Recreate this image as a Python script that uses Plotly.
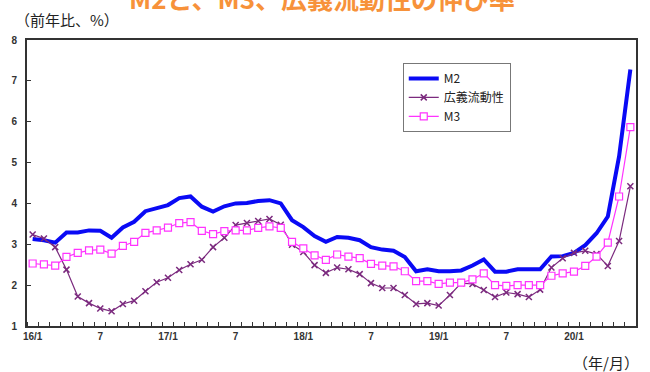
import plotly.graph_objects as go

months = ["16/1","16/2","16/3","16/4","16/5","16/6","16/7","16/8","16/9","16/10","16/11","16/12",
          "17/1","17/2","17/3","17/4","17/5","17/6","17/7","17/8","17/9","17/10","17/11","17/12",
          "18/1","18/2","18/3","18/4","18/5","18/6","18/7","18/8","18/9","18/10","18/11","18/12",
          "19/1","19/2","19/3","19/4","19/5","19/6","19/7","19/8","19/9","19/10","19/11","19/12",
          "20/1","20/2","20/3","20/4","20/5","20/6"]

m2 = [3.13,3.10,3.04,3.29,3.29,3.34,3.33,3.16,3.41,3.55,3.81,3.88,
      3.96,4.13,4.17,3.92,3.80,3.93,4.00,4.01,4.06,4.08,4.00,3.59,
      3.42,3.20,3.06,3.18,3.16,3.10,2.93,2.87,2.84,2.69,2.34,2.39,
      2.34,2.34,2.36,2.48,2.63,2.33,2.33,2.39,2.40,2.39,2.70,2.71,
      2.79,2.98,3.27,3.68,5.15,7.28]

liquidity = [3.24,3.14,2.93,2.38,1.72,1.56,1.43,1.36,1.54,1.62,1.85,2.07,
             2.18,2.37,2.51,2.62,2.93,3.16,3.47,3.52,3.57,3.62,3.48,2.99,
             2.81,2.49,2.30,2.43,2.39,2.27,2.05,1.93,1.93,1.76,1.54,1.56,
             1.50,1.76,2.05,2.03,1.88,1.71,1.82,1.78,1.71,1.89,2.43,2.66,
             2.79,2.84,2.76,2.47,3.08,4.42]

m3 = [2.53,2.51,2.48,2.69,2.79,2.85,2.87,2.77,2.96,3.06,3.28,3.34,
      3.41,3.52,3.54,3.33,3.25,3.32,3.34,3.34,3.40,3.44,3.40,3.06,
      2.90,2.73,2.62,2.75,2.70,2.66,2.52,2.48,2.46,2.34,2.10,2.10,
      2.03,2.06,2.06,2.14,2.29,2.00,1.98,2.00,2.00,2.00,2.23,2.29,
      2.33,2.47,2.70,3.04,4.17,5.87]

tick_idx = [0, 6, 12, 18, 24, 30, 36, 42, 48]
tick_text = ["16/1", "7", "17/1", "7", "18/1", "7", "19/1", "7", "20/1"]
y_ticks = [1, 2, 3, 4, 5, 6, 7, 8]

x = list(range(len(months)))

fig = go.Figure()
fig.add_trace(go.Scatter(x=x, y=m2, name="M2", mode="lines",
                         line=dict(color="#0A0AF5", width=4)))
fig.add_trace(go.Scatter(x=x, y=liquidity, name="広義流動性", mode="lines+markers",
                         line=dict(color="#7B2A7E", width=1.2),
                         marker=dict(symbol="x-thin-open", size=6,
                                     line=dict(color="#7B2A7E", width=1.5))))
fig.add_trace(go.Scatter(x=x, y=m3, name="M3", mode="lines+markers",
                         line=dict(color="#FF33FF", width=1.2),
                         marker=dict(symbol="square", size=7, color="white",
                                     line=dict(color="#FF33FF", width=1.2))))

axis_font = dict(family="Liberation Sans, Arial", size=10, color="#333", weight="bold")

fig.update_layout(
    width=650, height=372,
    margin=dict(l=27, r=14, t=40, b=46),
    paper_bgcolor="white", plot_bgcolor="white",
    showlegend=True,
    legend=dict(x=0.617, y=0.92, xanchor="left", yanchor="top",
                bordercolor="#777", borderwidth=1, bgcolor="white",
                font=dict(family="Noto Sans CJK JP", size=12, color="#222"),
                itemwidth=30, tracegroupgap=0),
    xaxis=dict(range=[-0.5, len(months) - 0.5], tickmode="array",
               tickvals=tick_idx, ticktext=tick_text, ticks="",
               tickfont=axis_font, showgrid=False, zeroline=False,
               showline=True, linecolor="#333", linewidth=2, mirror=True,
               minor=dict(ticks="inside", tickmode="linear", tick0=-0.5, dtick=1,
                          ticklen=4, tickcolor="#333", tickwidth=1, showgrid=False)),
    yaxis=dict(range=[1, 8], tickmode="array", tickvals=y_ticks,
               ticks="inside", ticklen=4, tickcolor="#333",
               tickfont=axis_font, showgrid=False, zeroline=False,
               showline=True, linecolor="#333", linewidth=2, mirror=True,
               ticklabelstandoff=6),
)

fig.add_annotation(text="M2と、M3、広義流動性の伸び率", xref="paper", yref="paper",
                   x=(322 - 27) / 609, y=1 + 42 / 286, xanchor="center", yanchor="middle",
                   showarrow=False,
                   font=dict(family="Noto Sans CJK JP", size=26, color="#F7923A", weight="bold"))
fig.add_annotation(text="（前年比、%）", xref="paper", yref="paper",
                   x=(13 - 27) / 609, y=1 + 21 / 286, xanchor="left", yanchor="middle",
                   showarrow=False,
                   font=dict(family="Noto Sans CJK JP", size=15, color="#222"))
fig.add_annotation(text="（年/月）", xref="paper", yref="paper",
                   x=(641 - 27) / 609, y=-(362 - 326) / 286, xanchor="right", yanchor="middle",
                   showarrow=False,
                   font=dict(family="Noto Sans CJK JP", size=15, color="#222"))

fig.write_html("out.html")
